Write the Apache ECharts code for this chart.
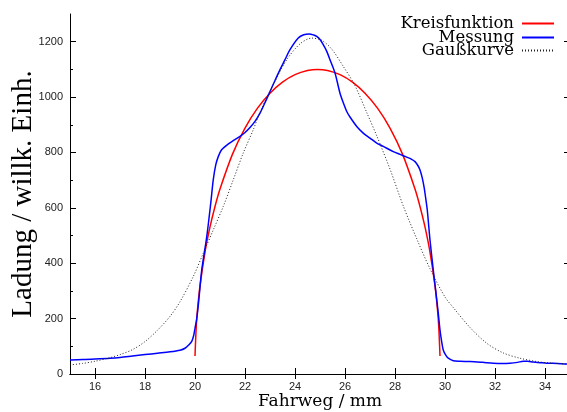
<!DOCTYPE html>
<html>
<head>
<meta charset="utf-8">
<script src="https://cdn.jsdelivr.net/npm/echarts@6/dist/echarts.min.js"></script>
<style>
  html, body { margin: 0; padding: 0; background: #fff; }
  #chart { width: 567px; height: 412px; }
</style>
</head>
<body>
<div id="chart"></div>
<script>
// tick positions
const xTicks = [16, 18, 20, 22, 24, 26, 28, 30, 32, 34]
const yTicks = [0, 200, 400, 600, 800, 1000, 1200]
const yMinorTicks = [100, 300, 500, 700, 900, 1100]

// Kreisfunktion (red)
const kreisX = [20.0, 20.05, 20.1, 20.2, 20.4, 20.6, 20.8, 21.0, 21.5, 22.0, 22.5, 23.0, 23.5, 24.0, 24.5, 24.9,
  25.3, 25.8, 26.3, 26.8, 27.3, 27.8, 28.3, 28.8, 29.0, 29.2, 29.4, 29.6, 29.7, 29.75, 29.8]
const kreisY = [65, 171, 232, 318, 440, 531, 605, 668, 794, 888, 960, 1014, 1054, 1081, 1096, 1100,
  1096, 1081, 1054, 1014, 960, 888, 794, 668, 605, 531, 440, 318, 232, 171, 65]

// Messung (blue)
const messX = [15.0, 15.5, 16.0, 16.6, 17.0, 17.5, 18.0, 18.5, 19.0, 19.4, 19.6, 19.75, 19.87, 19.95, 20.0, 20.07,
  20.15, 20.27, 20.47, 20.63, 20.73, 20.83, 20.93, 21.05, 21.2, 21.35, 21.53, 21.8, 22.0, 22.2, 22.4, 22.6,
  22.8, 23.0, 23.2, 23.4, 23.6, 23.8, 24.13, 24.35, 24.57, 24.75, 24.87, 25.0, 25.13, 25.27, 25.4, 25.6,
  25.8, 25.95, 26.07, 26.2, 26.47, 26.73, 27.0, 27.27, 27.53, 27.93, 28.2, 28.47, 28.65, 28.8, 28.92, 29.0,
  29.08, 29.16, 29.22, 29.29, 29.4, 29.53, 29.64, 29.73, 29.8, 29.87, 29.93, 30.03, 30.13, 30.33, 30.6, 31.0,
  31.5, 31.93, 32.3, 32.6, 32.9, 33.13, 33.3, 33.53, 33.8, 34.07, 34.5, 34.87, 35.0]
const messY = [51, 52, 54, 57, 60, 65, 70, 75, 80, 86, 93, 105, 118, 140, 165, 200,
  265, 376, 496, 617, 701, 755, 785, 808, 821, 832, 843, 858, 872, 890, 912, 942,
  980, 1020, 1060, 1099, 1135, 1171, 1213, 1225, 1228, 1224, 1219, 1208, 1189, 1165, 1135, 1087,
  1014, 975, 948, 928, 894, 870, 852, 834, 822, 803, 793, 783, 776, 767, 752, 737,
  712, 677, 640, 593, 484, 376, 292, 220, 159, 115, 87, 68, 57, 48, 46, 45,
  42, 39, 38, 39, 42, 46, 46, 43, 41, 39, 38, 36, 36]

// Gaußkurve (dotted)
const gaussX = [15.0, 15.5, 16.0, 16.6, 17.0, 17.5, 18.0, 18.5, 19.0, 19.4, 19.93, 20.33, 20.73, 21.13, 21.53,
  21.93, 22.33, 22.6, 23.13, 23.67, 24.2, 24.67, 25.07, 25.47, 25.93, 26.4, 26.87, 27.27, 27.8, 28.33, 28.87,
  29.4, 30.0, 30.33, 31.0, 31.67, 32.33, 33.0, 33.67, 34.3, 34.87, 35.0]
const gaussY = [33, 38, 46, 59, 70, 88, 117, 158, 208, 261, 352, 436, 520, 605, 701,
  798, 882, 945, 1045, 1135, 1192, 1213, 1205, 1173, 1111, 1041, 944, 860, 740, 607, 488,
  380, 278, 240, 168, 111, 76, 57, 45, 39, 36, 35]

const zip = (xs, ys) => xs.map((x, i) => [x, ys[i]])

const serif = 'Liberation Serif'
const sans = 'Liberation Sans'
const black = '#000'
const plain = v => String(v)

const chart = echarts.init(document.getElementById('chart'))

const legendBase = {
  right: 12,
  align: 'right',
  orient: 'vertical',
  itemWidth: 32,
  itemHeight: 12,
  padding: 0,
  itemStyle: { opacity: 0 },
  textStyle: { fontFamily: 'DejaVu Serif', fontSize: 16.5, color: black, padding: [0, 3, 0, 0] }
}

const option = {
  animation: false,
  backgroundColor: '#fff',
  legend: [
    Object.assign({}, legendBase, { data: ['Kreisfunktion'], top: 15 }),
    Object.assign({}, legendBase, { data: ['Messung'], top: 29 }),
    Object.assign({}, legendBase, { data: ['Gaußkurve'], top: 42 })
  ],
  grid: { left: 70, top: 14, width: 500, height: 360, outerBoundsMode: 'none', containLabel: false },
  xAxis: [
    {
      type: 'value', position: 'bottom', min: 15, max: 35,
      axisLine: { lineStyle: { color: black, width: 1 } },
      axisTick: { inside: true, length: 6, customValues: xTicks, lineStyle: { color: black } },
      axisLabel: { customValues: xTicks, margin: 7, fontSize: 11, color: '#222', fontFamily: sans, formatter: plain },
      splitLine: { show: false },
      name: 'Fahrweg / mm', nameLocation: 'middle', nameGap: 19, nameMoveOverlap: false,
      nameTextStyle: { fontFamily: 'DejaVu Serif', fontSize: 17, color: black }
    },
    {
      type: 'value', position: 'top', min: 15, max: 35,
      axisLine: { lineStyle: { color: black, width: 1 } },
      axisTick: { inside: true, length: 5, customValues: xTicks, lineStyle: { color: black } },
      axisLabel: { show: false },
      splitLine: { show: false }
    }
  ],
  yAxis: [
    {
      type: 'value', position: 'left', min: 0, max: 1300,
      axisLine: { show: true, lineStyle: { color: black, width: 1 } },
      axisTick: { show: true, inside: true, length: 6, customValues: yTicks, lineStyle: { color: black } },
      axisLabel: { customValues: yTicks, margin: 7, fontSize: 11, color: '#222', fontFamily: sans, formatter: plain },
      splitLine: { show: false },
      name: 'Ladung / willk. Einh.', nameLocation: 'middle', nameGap: 32, nameRotate: 90, nameMoveOverlap: false,
      nameTextStyle: { fontFamily: serif, fontSize: 29, color: black }
    },
    {
      type: 'value', position: 'left', min: 0, max: 1300,
      axisLine: { show: false },
      axisTick: { show: true, inside: true, length: 3, customValues: yMinorTicks, lineStyle: { color: black } },
      axisLabel: { show: false },
      splitLine: { show: false }
    },
    {
      type: 'value', position: 'right', min: 0, max: 1300,
      axisLine: { show: true, lineStyle: { color: black, width: 1 } },
      axisTick: { show: true, inside: true, length: 6, customValues: yTicks, lineStyle: { color: black } },
      axisLabel: { show: false },
      splitLine: { show: false }
    },
    {
      type: 'value', position: 'right', min: 0, max: 1300,
      axisLine: { show: false },
      axisTick: { show: true, inside: true, length: 3, customValues: yMinorTicks, lineStyle: { color: black } },
      axisLabel: { show: false },
      splitLine: { show: false }
    }
  ],
  series: [
    {
      name: 'Kreisfunktion', type: 'line', symbol: 'none', smooth: 0.3,
      lineStyle: { color: '#ff0000', width: 1.5 }, itemStyle: { color: '#ff0000' },
      data: zip(kreisX, kreisY)
    },
    {
      name: 'Messung', type: 'line', symbol: 'none', smooth: 0.3,
      lineStyle: { color: '#0000ff', width: 1.5 }, itemStyle: { color: '#0000ff' },
      data: zip(messX, messY)
    },
    {
      name: 'Gaußkurve', type: 'line', symbol: 'none', smooth: 0.3,
      lineStyle: { color: '#222', width: 1, type: [1, 2] }, itemStyle: { color: '#222' },
      data: zip(gaussX, gaussY)
    }
  ]
}

chart.setOption(option)
</script>
</body>
</html>
